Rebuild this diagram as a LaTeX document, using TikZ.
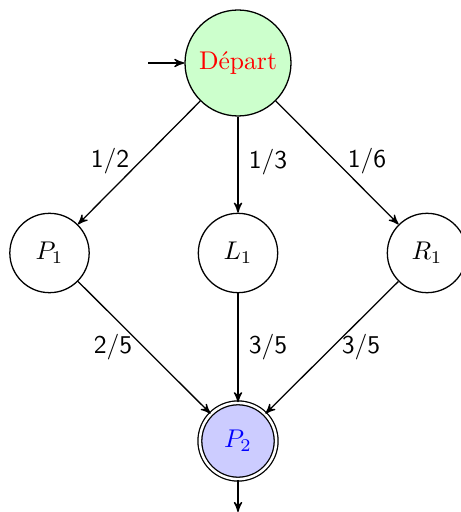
\documentclass[tikz,border=0pt]{standalone}
\usetikzlibrary{arrows}
\begin{document}
\begin{tikzpicture}[x=0.390625pt,y=-0.390625pt,>=stealth',
  state/.style={circle,draw,line width=0.5pt,minimum size=31pt,inner sep=0pt},
  lab/.style={font=\sffamily,inner sep=1pt},
  arr/.style={->,line width=0.5pt}]
\useasboundingbox (0,0) rectangle (460,512);
\node[state,fill=green!20,minimum size=41.4pt,text=red] (dep) at (238,63) {Départ};
\node[state] (p1) at (49.5,253) {$P_1$};
\node[state] (l1) at (238,253) {$L_1$};
\node[state] (r1) at (427,253) {$R_1$};
\node[state,fill=blue!20,double,double distance=1pt,minimum size=29.8pt,text=blue] (p2) at (238,441) {$P_2$};
\coordinate (start) at (148,63);
\coordinate (end) at (238,512);
\draw[arr] (start) -- (dep);
\draw[arr] (dep) -- (p1);
\draw[arr] (dep) -- (l1);
\draw[arr] (dep) -- (r1);
\draw[arr] (p1) -- (p2);
\draw[arr] (l1) -- (p2);
\draw[arr] (r1) -- (p2);
\draw[arr] (p2) -- (end);
\node[lab] (e1) at (110,161) {1/2};
\node[lab] (e2) at (268,162) {1/3};
\node[lab] (e3) at (367,161) {1/6};
\node[lab] (e4) at (113,347) {2/5};
\node[lab] (e5) at (268,347) {3/5};
\node[lab] (e6) at (361,347) {3/5};
\end{tikzpicture}
\end{document}
